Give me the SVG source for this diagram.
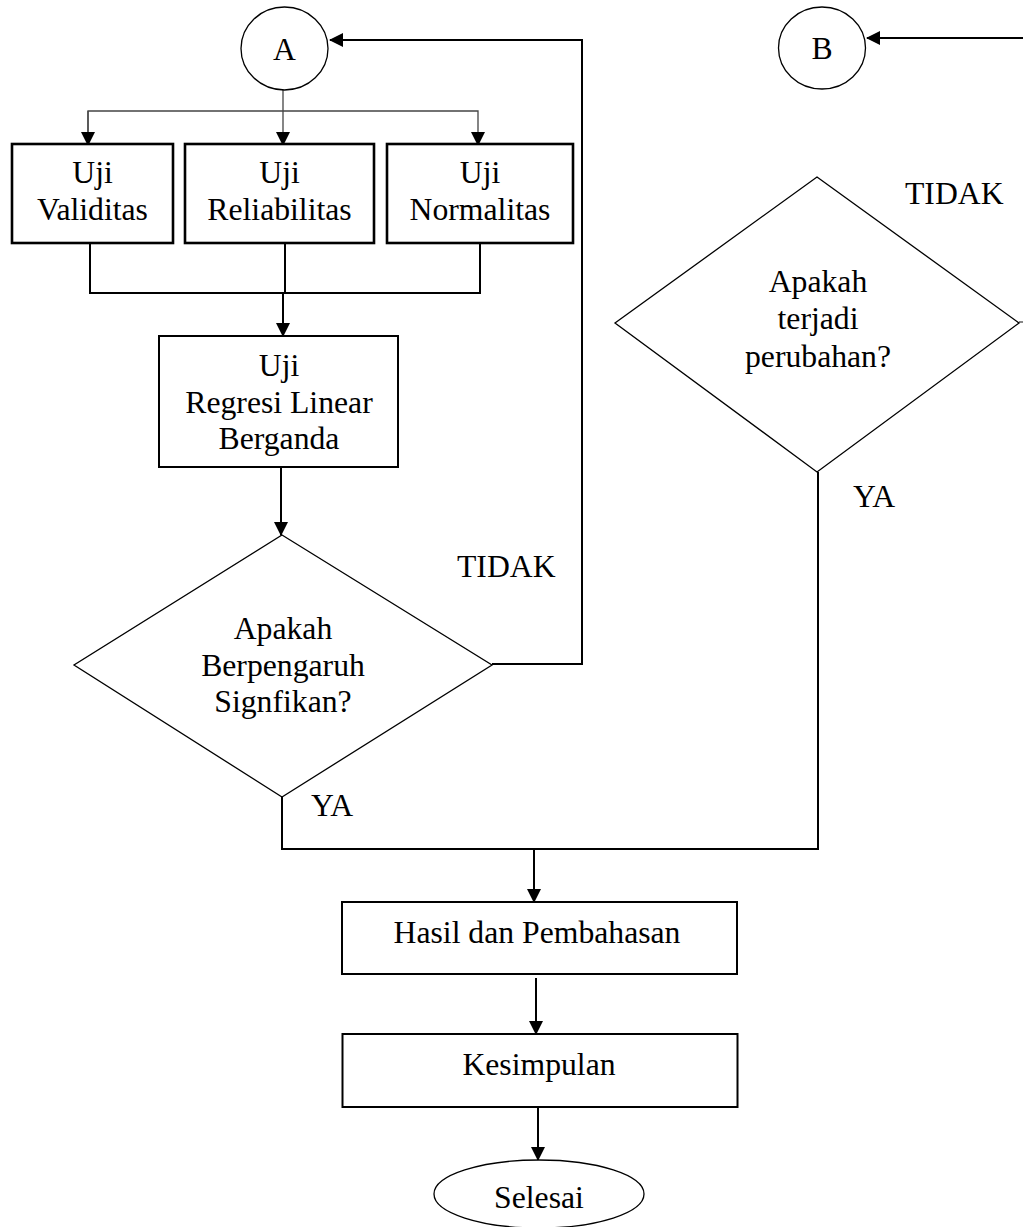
<svg xmlns="http://www.w3.org/2000/svg" width="1023" height="1227" viewBox="0 0 1023 1227">
<defs>
<marker id="arr" markerWidth="14" markerHeight="14" refX="13" refY="7" orient="auto" markerUnits="userSpaceOnUse">
<path d="M0,0 L14,7 L0,14 Z" fill="#000"/>
</marker>
<style>
text{font-family:"Liberation Serif","Times New Roman",serif;font-size:31.7px;fill:#000;text-anchor:middle}
.box{fill:#fff;stroke:#000;stroke-width:2}
.box2{fill:#fff;stroke:#000;stroke-width:2.6}
.dia{fill:#fff;stroke:#000;stroke-width:1.3}
.circ{fill:#fff;stroke:#000;stroke-width:1.3}
.c{fill:none;stroke:#000;stroke-width:2}
.thin{fill:none;stroke:#444;stroke-width:1.3}
.lbl{text-anchor:start}
</style>
</defs>
<rect width="1023" height="1227" fill="#fff"/>
<g id="connectors">
<polyline class="c" points="492,664 582,664 582,40 330,40" marker-end="url(#arr)"/>
<polyline class="c" points="1023,38 867,38" marker-end="url(#arr)"/>
<line class="thin" x1="1019" y1="322" x2="1023" y2="322"/>
<line class="thin" x1="283" y1="90" x2="283" y2="111"/>
<polyline class="thin" points="88,145 88,111 478,111 478,145" marker-end="url(#arr)"/>
<line class="thin" x1="88" y1="111" x2="88" y2="145" marker-end="url(#arr)"/>
<line class="thin" x1="283" y1="111" x2="283" y2="145" marker-end="url(#arr)"/>
<polyline class="c" points="90,244 90,293 480,293 480,244"/>
<line class="c" x1="285" y1="244" x2="285" y2="293"/>
<line class="c" x1="283" y1="293" x2="283" y2="336" marker-end="url(#arr)"/>
<line class="c" x1="281" y1="467" x2="281" y2="535" marker-end="url(#arr)"/>
<polyline class="c" points="282,797 282,849 818,849 818,472"/>
<line class="c" x1="534" y1="849" x2="534" y2="902" marker-end="url(#arr)"/>
<line class="c" x1="536" y1="978" x2="536" y2="1034" marker-end="url(#arr)"/>
<line class="c" x1="538" y1="1107" x2="538" y2="1160" marker-end="url(#arr)"/>
</g>
<g id="nodeA">
<ellipse class="circ" cx="284.5" cy="48.5" rx="43.5" ry="41.5"/>
<text x="284.5" y="60">A</text>
</g>
<g id="nodeB">
<ellipse class="circ" cx="822" cy="48" rx="43.5" ry="41"/>
<text x="822" y="59">B</text>
</g>
<g id="validitas">
<rect class="box2" x="12" y="144" width="161" height="99"/>
<text x="92.5" y="183">Uji</text>
<text x="92.5" y="220">Validitas</text>
</g>
<g id="reliabilitas">
<rect class="box2" x="185" y="144" width="189" height="99"/>
<text x="279.5" y="183">Uji</text>
<text x="279.5" y="220">Reliabilitas</text>
</g>
<g id="normalitas">
<rect class="box2" x="387" y="144" width="186" height="99"/>
<text x="480" y="183">Uji</text>
<text x="480" y="220">Normalitas</text>
</g>
<g id="regresi">
<rect class="box" x="159" y="336" width="239" height="131"/>
<text x="279" y="376">Uji</text>
<text x="279" y="413">Regresi Linear</text>
<text x="279" y="449">Berganda</text>
</g>
<g id="decision1">
<polygon class="dia" points="282,535 492,665 282,797 74,665"/>
<text x="283" y="639">Apakah</text>
<text x="283" y="676">Berpengaruh</text>
<text x="283" y="712">Signfikan?</text>
<text class="lbl" x="457" y="577">TIDAK</text>
<text class="lbl" x="311" y="816">YA</text>
</g>
<g id="decision2">
<polygon class="dia" points="817,177 1019,323 817,472 615,323"/>
<text x="818" y="292">Apakah</text>
<text x="818" y="329">terjadi</text>
<text x="818" y="367">perubahan?</text>
<text class="lbl" x="905" y="204">TIDAK</text>
<text class="lbl" x="853" y="507">YA</text>
</g>
<g id="hasil">
<rect class="box" x="342" y="902" width="395" height="72"/>
<text x="537" y="943">Hasil dan Pembahasan</text>
</g>
<g id="kesimpulan">
<rect class="box" x="342.5" y="1034" width="395" height="73"/>
<text x="539" y="1075">Kesimpulan</text>
</g>
<g id="selesai">
<ellipse class="circ" cx="539" cy="1194" rx="105" ry="34"/>
<text x="539" y="1208">Selesai</text>
</g>
</svg>
